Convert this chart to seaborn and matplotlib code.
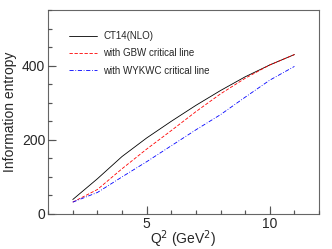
import numpy as np
import pandas as pd
import matplotlib
matplotlib.use("Agg")
import matplotlib.pyplot as plt
import matplotlib.transforms as mtransforms
import seaborn as sns

q2 = [2, 3, 4, 5, 6, 7, 8, 9, 10, 11]
ct14 = [39, 95, 155, 205, 250, 293, 333, 370, 402, 430]
gbw = [32, 66, 122, 175, 225, 276, 324, 366, 402, 430]
wykwc = [32, 58, 100, 141, 184, 227, 268, 315, 361, 398]
labels = ["CT14(NLO)", "with GBW critical line", "with WYKWC critical line"]

df = pd.concat([
    pd.DataFrame({"Q2": q2, "S": v, "series": lab})
    for v, lab in zip([ct14, gbw, wykwc], labels)
])

sns.set_style("ticks", {"xtick.direction": "in", "ytick.direction": "in"})
plt.rcParams["font.family"] = ["Liberation Sans", "DejaVu Sans"]

fig = plt.figure(figsize=(3.32, 2.49), dpi=100)
ax = fig.add_axes([0.145, 0.1406, 0.816, 0.819])

palette = {labels[0]: "black", labels[1]: "red", labels[2]: "blue"}
dashes = {labels[0]: "", labels[1]: (4, 2), labels[2]: (5, 2, 1, 2)}
sns.lineplot(data=df, x="Q2", y="S", hue="series", style="series",
             palette=palette, dashes=dashes, linewidth=0.6, ax=ax)

ax.set_xlim(1, 12)
ax.set_ylim(0, 550)
ax.set_xticks([5, 10])
ax.set_xticks(range(1, 13), minor=True)
ax.set_yticks([0, 200, 400])
ax.set_yticks(range(0, 551, 50), minor=True)

for s in ax.spines.values():
    s.set_visible(True)
    s.set_color("#666666")
    s.set_linewidth(0.8)

ax.set_xlabel("Q$^2$ (GeV$^2$)", fontsize=10)
ax.set_ylabel("Information entropy", fontsize=10)
ax.xaxis.set_label_coords(0.5, -0.07)
ax.yaxis.set_label_coords(-0.115, 0.5)

leg = ax.legend(loc="upper left", bbox_to_anchor=(0.045, 0.94), frameon=False,
                fontsize=7, handlelength=2.9, labelspacing=0.75, handletextpad=0.6)
leg.set_title(None)

ax.tick_params(axis="both", which="major", direction="in", length=6, width=0.8,
               color="#555555", labelsize=10, pad=2, top=False, right=False)
ax.tick_params(axis="both", which="minor", direction="in", length=3, width=0.8,
               color="#555555", top=False, right=False)

# draw tick marks explicitly along the axes, at the axis' own tick locations
tx = mtransforms.blended_transform_factory(ax.transData, ax.transAxes)
ty = mtransforms.blended_transform_factory(ax.transAxes, ax.transData)
tick_kw = dict(color="#555555", lw=0.8, clip_on=False, zorder=3)
for x in ax.get_xticks():
    ax.plot([x, x], [0, 0.03], transform=tx, **tick_kw)
for x in ax.get_xticks(minor=True):
    ax.plot([x, x], [0, 0.015], transform=tx, **tick_kw)
for y in ax.get_yticks():
    ax.plot([0, 0.022], [y, y], transform=ty, **tick_kw)
for y in ax.get_yticks(minor=True):
    ax.plot([0, 0.011], [y, y], transform=ty, **tick_kw)
ax.set_xlim(1, 12)
ax.set_ylim(0, 550)

fig.savefig("out.png", dpi=100)
